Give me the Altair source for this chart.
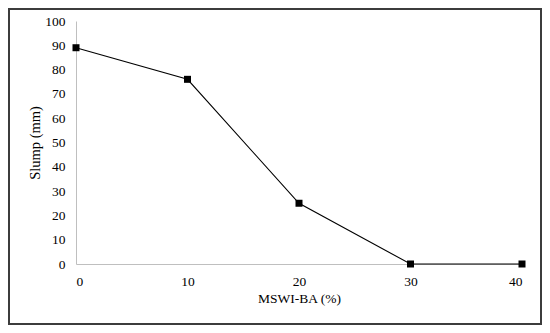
import altair as alt
import pandas as pd

mswi_ba = [0, 10, 20, 30, 40]
slump = [89, 76, 25, 0, 0]
x_ticks = [0, 10, 20, 30, 40]
y_ticks = [0, 10, 20, 30, 40, 50, 60, 70, 80, 90, 100]

df = pd.DataFrame({"MSWI-BA": mswi_ba, "Slump": slump})
FONT = "Times New Roman, Liberation Serif, serif"

x_enc = alt.X(
    "MSWI-BA:Q",
    title="MSWI-BA (%)",
    scale=alt.Scale(domain=[0, 40], nice=False, zero=False),
    axis=alt.Axis(values=x_ticks, grid=False, ticks=False, tickSize=0,
                  domainColor="#bfbfbf", domainWidth=1,
                  labelPadding=10, titlePadding=4,
                  labelFont=FONT, titleFont=FONT,
                  labelFontSize=13.5, titleFontSize=13.5,
                  labelColor="#000000", titleColor="#000000",
                  titleFontWeight="normal"),
)
y_enc = alt.Y(
    "Slump:Q",
    title="Slump (mm)",
    scale=alt.Scale(domain=[0, 100], nice=False),
    axis=alt.Axis(values=y_ticks, grid=False, ticks=False, tickSize=0,
                  domainColor="#bfbfbf", domainWidth=1,
                  labelPadding=11, titlePadding=2,
                  labelFont=FONT, titleFont=FONT,
                  labelFontSize=13.5, titleFontSize=14.5,
                  labelColor="#000000", titleColor="#000000",
                  titleFontWeight="normal"),
)

line = alt.Chart(df).mark_line(color="#000000", strokeWidth=1.1).encode(x=x_enc, y=y_enc)
pts = alt.Chart(df).mark_point(shape="square", filled=True, size=49, color="#000000", opacity=1).encode(x=x_enc, y=y_enc)

frame = alt.Chart(pd.DataFrame({"a": [0]})).mark_rect(
    filled=False, stroke="#3c3c3c", strokeWidth=2
).encode(
    x=alt.value(-67), x2=alt.value(465), y=alt.value(-12), y2=alt.value(303)
)

chart = alt.layer(frame, line, pts).properties(
    width=446, height=243, padding=0, background="#ffffff"
).configure_view(stroke=None)

chart.save("out.html", embed_options={"renderer": "svg", "actions": False})
